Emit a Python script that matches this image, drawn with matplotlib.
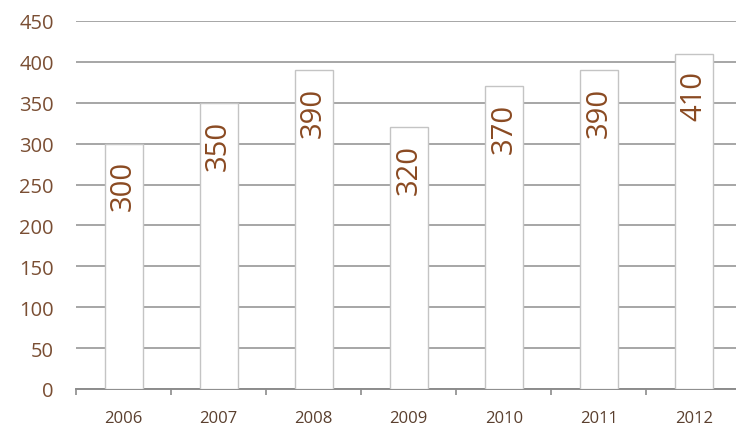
import matplotlib.pyplot as plt
import numpy as np

years = ["2006", "2007", "2008", "2009", "2010", "2011", "2012"]
values = [300, 350, 390, 320, 370, 390, 410]
y_ticks = [0, 50, 100, 150, 200, 250, 300, 350, 400, 450]

label_color = "#8a4a22"
tick_color = "#7a4e33"
grid_color = "#a6a6a6"

fig = plt.figure(figsize=(7.36, 4.27), dpi=100)
ax = fig.add_axes([0.1033, 0.0867, 0.904, 0.8618])

x = np.arange(len(years))
bars = ax.bar(x, values, width=0.4, color="white", edgecolor="#c4c4c4",
              linewidth=1.0, zorder=3)

for xi, v in zip(x, values):
    ax.annotate(str(v), (xi, v), xytext=(0, -12), textcoords="offset points",
                rotation=90, ha="center", va="top", fontsize=21,
                family="Open Sans", color=label_color, zorder=4)

ax.set_xlim(-0.5, len(years) - 0.5)
ax.set_ylim(0, 450)
ax.set_yticks(y_ticks)
ax.yaxis.grid(True, color=grid_color, linewidth=1.4, zorder=0)
ax.set_axisbelow(True)

# category labels centred, tick marks on the boundaries
ax.set_xticks(x)
ax.set_xticklabels(years, fontsize=12, family="Open Sans", color="#5a3f2e")
ax.tick_params(axis="x", which="major", length=0, pad=15)
ax.set_xticks(np.arange(len(years) + 1) - 0.5, minor=True)
ax.tick_params(axis="x", which="minor", length=4, color="#8c8c8c", width=1.2)
ax.tick_params(axis="y", length=0, pad=16, labelsize=14.5, labelcolor=tick_color)
for lab in ax.get_yticklabels():
    lab.set_family("Open Sans")

for side in ["top", "right", "left"]:
    ax.spines[side].set_visible(False)
ax.spines["bottom"].set_color("#8c8c8c")
ax.spines["bottom"].set_linewidth(1.4)

plt.savefig("out.png", dpi=100)
